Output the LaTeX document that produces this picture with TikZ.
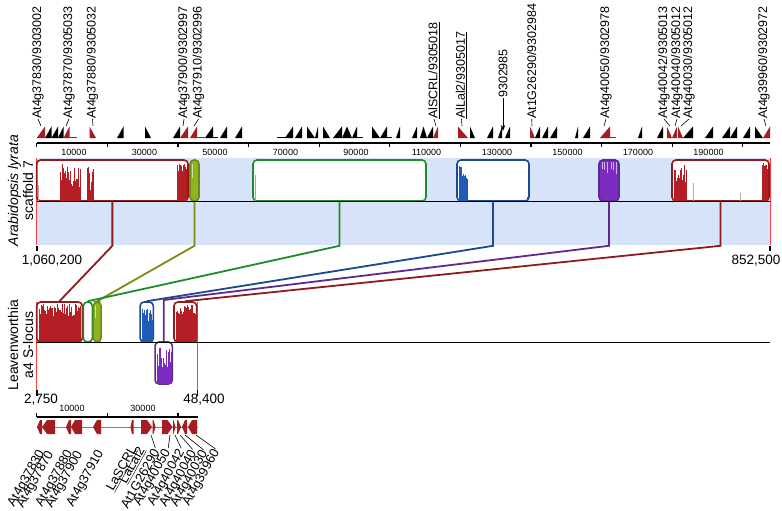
\documentclass[tikz,border=0pt]{standalone}
\usepackage{fontspec}
\setmainfont{Liberation Sans}
\usetikzlibrary{arrows.meta}

\definecolor{mred}{HTML}{B41E24}
\definecolor{mredline}{HTML}{8E1B1F}
\definecolor{tred}{HTML}{A51C22}
\definecolor{mgreen}{HTML}{1E8C2E}
\definecolor{myg}{HTML}{8DB51E}
\definecolor{mygline}{HTML}{6E8A14}
\definecolor{molive}{HTML}{7F8A12}
\definecolor{mblue}{HTML}{1F5BB8}
\definecolor{mblueline}{HTML}{1C4A8C}
\definecolor{mpurple}{HTML}{7B2BC2}
\definecolor{mpurpleline}{HTML}{5E2A90}
\definecolor{band}{HTML}{D6E3F8}

% coverage histogram inside a block
\newcommand{\histbars}[6]{%
  \pgfmathtruncatemacro{\hn}{(#2-#1)/0.8}%
  \foreach \k in {0,...,\hn}{%
    \pgfmathsetmacro{\hx}{#1+0.8*\k}%
    \pgfmathsetmacro{\htop}{#4+rnd*(#5-#4)}%
    \fill[#6] (\hx,#3) rectangle ({\hx+0.9},\htop);}}

\begin{document}
\begin{tikzpicture}[
		x=1pt, y=-1pt,
		>=Stealth,
		toplabel/.style={rotate=90, anchor=west, inner sep=0pt, font=\fontsize{12.5}{13}\selectfont},
		genelabel/.style={rotate=61, anchor=east, inner sep=0pt, font=\fontsize{13}{14}\selectfont},
		sidelabel/.style={rotate=90, align=center, inner sep=0pt, font=\fontsize{14}{15}\selectfont},
		axisnum/.style={inner sep=0pt, font=\fontsize{9}{10}\selectfont},
		endnum/.style={inner sep=0pt, font=\fontsize{13.5}{14}\selectfont},
		block/.style={draw=#1, line width=1.6pt, rounded corners=4pt, fill=white, inner sep=0pt},
		link/.style={draw=#1, line width=1.8pt},
		endline/.style={draw=red!75, line width=0.7pt}
		]
		\pgfmathsetseed{11}
		\useasboundingbox (0,0) rectangle (782,511);
		
		% Gene labels of the scaffold (top)
		\foreach \lx/\gx/\txt [count=\i] in {38/41/{At4g37830/9303002}, 69/66/{At4g37870/9305033},
			92.5/93/{At4g37880/9305032}, 184/183/{At4g37900/9302997}, 198.5/194/{At4g37910/9302996},
			434/436/{\underline{AlSCRL/9305018}}, 461.5/462/{\underline{AlLal2/9305017}},
			531.7/532/{At1G26290/9302984}, 606/604/{At4g40050/9302978}, 664/670/{At4g40042/9305013},
			677/675/{At4g40040/9305012}, 689/681/{At4g40030/9305012}, 764/766/{At4g39960/9302972}}{
			\node[toplabel] (tl\i) at (\lx,119) {\txt};
			\draw[line width=0.6pt] (tl\i.west) -- (\gx,126);
		}
		\node[toplabel] (tlx) at (503,98) {9302985};
		\coordinate (gx) at (503,131);
		\draw[line width=1pt, -{Stealth[length=6pt,width=4.5pt]}] (tlx.west) -- (gx);
		
		% Gene triangles
		\foreach \ga/\gb/\gd/\gc in {36.7/45/1/tred, 45/51.5/1/black, 51.5/58/1/black, 58/63.5/1/black,
			63.5/69.5/1/tred, 89.5/96/0/tred, 117/123.5/1/black, 145/151/0/black, 173/180/1/black,
			180/188/1/tred, 190/197/1/tred, 205/213/1/black, 220/227/1/black, 235/242/1/black,
			285/293/1/black, 295/302/1/black, 307/315/0/black, 315/318/1/black, 323/330/0/black,
			333/342/1/black, 342/352/0.5/black, 352/357/1/black, 372/380/0/black, 380/387/1/black,
			396/400/1/black, 412/417/1/black, 420/427/0.5/black, 427/433/1/black, 433/438/1/tred,
			458/468/0/tred, 470/475/0/black, 487/493/1/black, 498/502/1/black, 505/510/1/black,
			530/535/0/tred, 535/540/1/black, 542/548/1/black, 550/557/1/black, 575/578/1/black,
			583/590/1/black, 600/610/1/tred, 638/642/1/black, 657/663/1/black, 667/672/0/tred,
			672/677/1/tred, 678/683/0/tred, 683/693/1/black, 705/713/1/black, 722/730/1/black,
			730/737/1/black, 743/750/1/black, 755/763/0/black, 763/770/1/tred}{
			\fill[\gc] (\ga,138) -- (\gb,138) -- ({\ga+\gd*(\gb-\ga)},126.5) -- cycle;
		}
		\foreach \ga/\gb/\gc in {63.5/77/tred, 197/205/tred, 213/218/black, 277/290/black,
			357/363/black, 387/392/black, 610/616/tred}{
			\draw[\gc, line width=1pt] (\ga,137.5) -- (\gb,137.5);
		}
		
		% Scale of the scaffold
		\draw[line width=1.4pt] (36.7,143) -- (770,143);
		\foreach \k in {0,...,10}{
			\draw[line width=1.2pt] ({36.7+70.6*\k},143) -- ++(0,3.5);
		}
		\foreach \k in {0,...,9}{
			\pgfmathtruncatemacro{\lab}{1+2*\k}
			\node[axisnum] at ({74+70.5*\k},152.5) {\lab0000};
		}
		
		% Panel of Arabidopsis lyrata
		\fill[band] (36.7,158) rectangle (770,245);
		\draw[endline] (36.7,158) -- (36.7,245);
		\draw[endline] (770,158) -- (770,245);
		\draw[line width=1.8pt] (36.7,246) -- (36.7,251);
		\draw[line width=1.8pt] (770,246) -- (770,251);
		\node[sidelabel] (lyrata) at (20.5,190.5) {\textit{Arabidopsis lyrata}\\scaffold 7};
		\node[endnum] (startA) at (52,261) {1,060,200};
		\node[endnum] (endA) at (756,261) {852,500};
		
		% Blocks of Arabidopsis lyrata
		\node[block=mredline, minimum width=151.3pt, minimum height=41pt] (redA) at (112.35,180.5) {};
		\node[block=mygline, fill=myg, minimum width=9pt, minimum height=41pt] (ygA) at (194.5,180.5) {};
		\node[block=mgreen, minimum width=173pt, minimum height=41pt] (grnA) at (339.5,180.5) {};
		\node[block=mblueline, minimum width=72pt, minimum height=41pt] (bluA) at (493,180.5) {};
		\node[block=mpurpleline, fill=mpurple, minimum width=20pt, minimum height=41pt] (purA) at (609,180.5) {};
		\node[block=mredline, minimum width=97pt, minimum height=41pt] (redC) at (720.5,180.5) {};
		
		\histbars{37.5}{39}{201}{176}{190}{mred!45}
		\histbars{60}{80}{201}{163}{188}{mred}
		\histbars{87}{93}{201}{165}{196}{mred}
		\histbars{177}{186}{201}{163}{176}{mred}
		\fill[white!60!myg] (192,164) rectangle (193.3,178);
		\fill[mgreen!55] (254.5,175) rectangle (256,201);
		\histbars{458.5}{467}{201}{165}{182}{mblue}
		\fill[mblue] (526.5,197) rectangle (527.5,201);
		\foreach \px in {601.5,604,607,610.5,613,616}{
			\pgfmathsetmacro{\htop}{166+rnd*14}
			\fill[mpurple!35] (\px,162) rectangle ({\px+1},\htop);
		}
		\histbars{673.5}{686}{201}{165}{186}{mred}
		\fill[gray!60] (692.5,183) rectangle (693.3,201);
		\fill[gray!60] (740,193) rectangle (740.8,201);
		\histbars{762}{767}{201}{163}{173}{mred}
		\draw[line width=1pt] (36.7,201) -- (770,201);
		
		% Panel of Leavenworthia
		\draw[endline] (36.7,302) -- (36.7,390);
		\draw[endline] (197.5,302) -- (197.5,390);
		\draw[line width=1.8pt] (36.7,390) -- (36.7,396);
		\draw[line width=1.8pt] (197.5,390) -- (197.5,396);
		\node[sidelabel] (leaven) at (20.5,345) {Leavenworthia\\a4 S-locus};
		\node[endnum] (startB) at (41,400) {2,750};
		\node[endnum] (endB) at (204,399.5) {48,400};
		
		% Blocks of Leavenworthia
		\node[block=mredline, minimum width=45.6pt, minimum height=40pt] (redB) at (59.5,322) {};
		\node[block=mgreen, minimum width=9pt, minimum height=40pt] (grnB) at (87.8,322) {};
		\node[block=mygline, fill=myg, minimum width=7.7pt, minimum height=40pt] (ygB) at (97.2,322) {};
		\node[block=mblueline, minimum width=13.3pt, minimum height=40pt] (bluB) at (146.7,322) {};
		\node[block=mpurpleline, minimum width=17.3pt, minimum height=42pt] (purB) at (163.7,363) {};
		\node[block=mredline, minimum width=22.7pt, minimum height=40pt] (redD) at (185.3,322) {};
		
		\histbars{38.5}{80.5}{342}{304}{316}{mred}
		\fill[white!55!myg] (95,305) rectangle (96.2,318);
		\histbars{141.5}{152}{342}{306}{324}{mblue}
		\histbars{156.5}{171}{384}{348}{374}{mpurple}
		\histbars{175.5}{195.5}{342}{304}{316}{mred}
		\draw[line width=1pt] (36.7,342) -- (770,342);
		
		% Links between the two panels
		\draw[link=mredline] (redA.south) -- ++(0,44) -- (redB.north);
		\draw[link=molive] (ygA.south) -- ++(0,44) -- (ygB.north);
		\draw[link=mgreen] (grnA.south) -- ++(0,44) -- (grnB.north);
		\draw[link=mblueline] (bluA.south) -- ++(0,44) -- (bluB.north);
		\draw[link=mpurpleline] (purA.south) -- ++(0,44) -- (purB.north |- 0,300) -- (purB.north);
		\draw[link=mredline] (redC.south) -- ++(0,44) -- (redD.north);
		
		% Gene map of the S-locus
		\draw[line width=1.4pt] (36.7,417) -- (197.5,417);
		\foreach \k in {0,1,2}{
			\draw[line width=1.2pt] ({36.7+70.6*\k},417) -- ++(0,-4.5);
		}
		\node[axisnum] (tenk) at (72,408) {10000};
		\node[axisnum] (thirtyk) at (143,408) {30000};
		\draw[gray, line width=0.9pt] (36.7,427) -- (197.5,427);
		\foreach \gt/\gb/\gh in {37/42/3, 42/55/5, 66/71/3, 71/82/4, 93/101/4, 130.5/133.5/1.5,
			152/141/-5, 155.5/152.5/-2, 172.5/162/-5, 175.5/173/-2, 181/177/-3, 182/187/3, 188/197/4}{
			\fill[tred] (\gt,427) -- ({\gt+\gh},420) -- (\gb,420) -- (\gb,434) -- ({\gt+\gh},434) -- cycle;
		}
		\foreach \bx/\by/\txt [count=\i] in {42/451/At4g37830, 51/452/At4g37870, 70/451/At4g37880,
			80/452/At4g37900, 101/451/At4g37910, 134/447/\underline{LaSCRL}, 142/448/\underline{LaLal2},
			156/450/At1G26290, 168/450/At4g40050, 182/450/At4g40042, 194/451/At4g40040,
			205/451/At4g40030, 217/450/At4g39960}{
			\node[genelabel] (bl\i) at (\bx,\by) {\txt};
		}
		\foreach \gx/\i in {151/8, 170/9, 175/10, 180/11, 185/12, 196/13}{
			\draw[line width=0.6pt, shorten >=2pt] (\gx,435) -- (bl\i.east);
		}
		
	\end{tikzpicture}
\end{document}
